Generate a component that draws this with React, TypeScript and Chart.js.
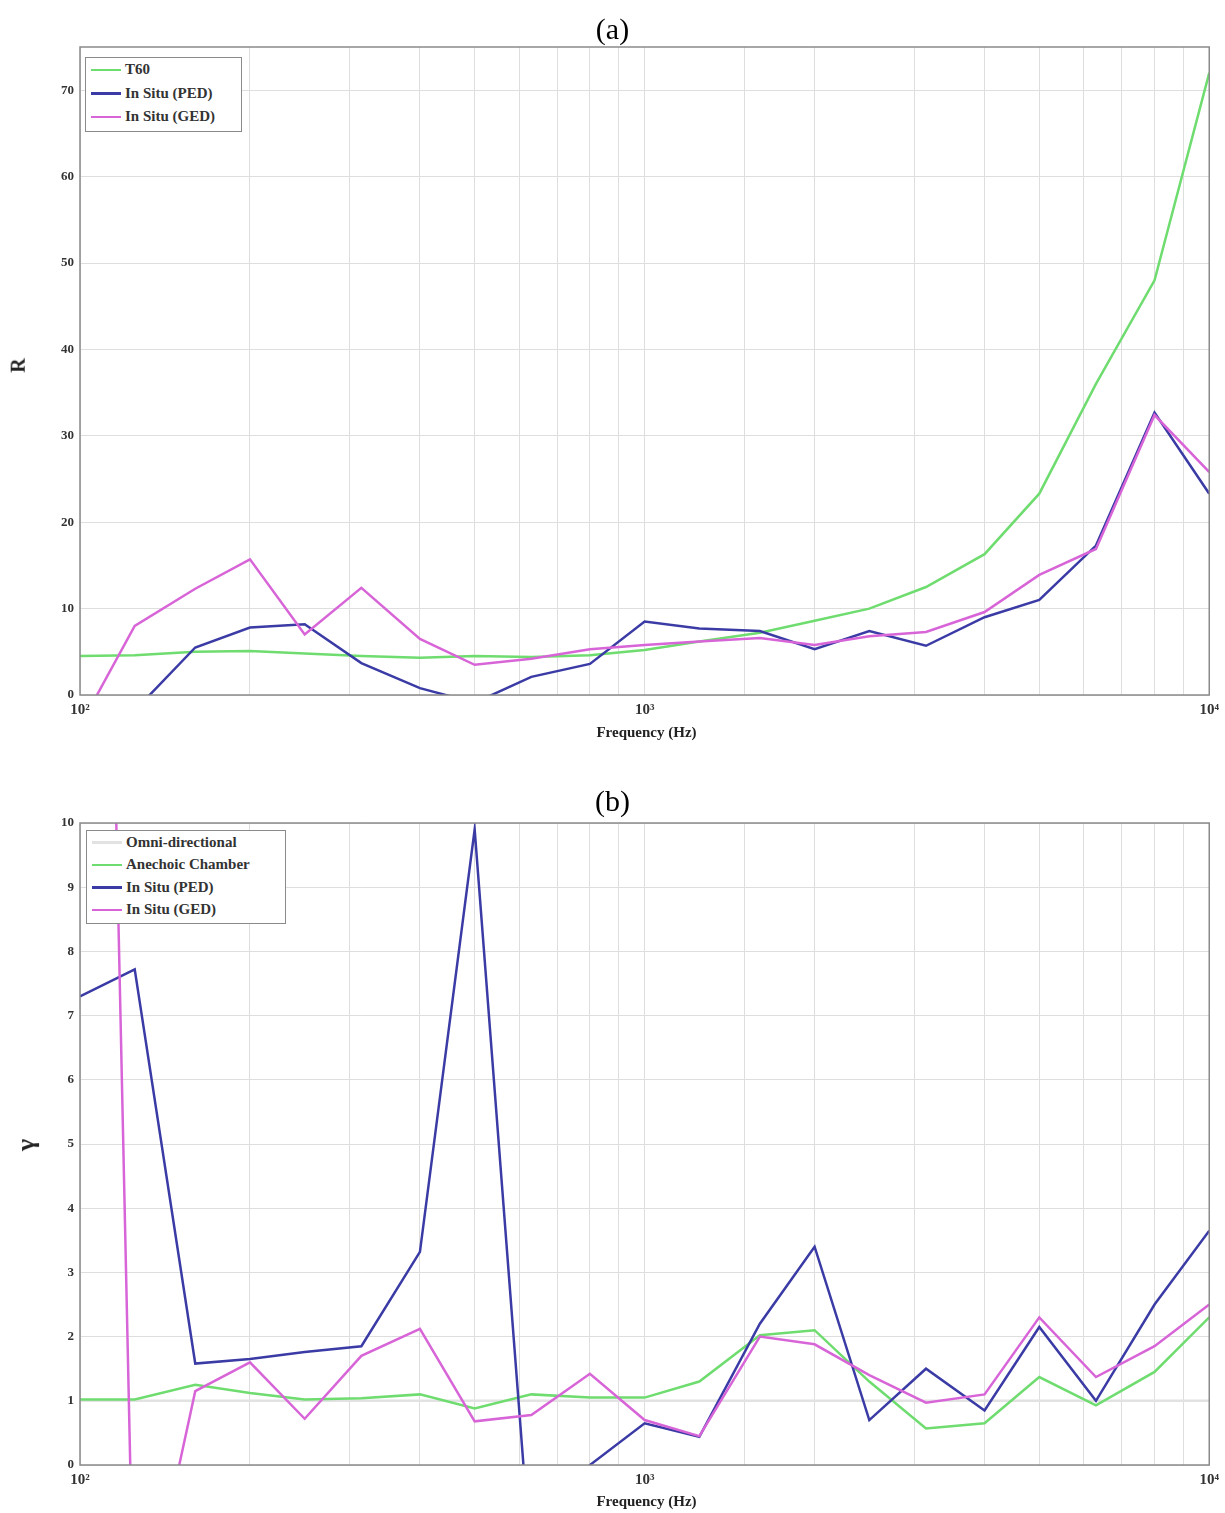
import React, { useEffect, useRef } from "react";
import { Chart, registerables } from "chart.js";

Chart.register(...registerables);

// ---- data ----
const FREQS = [100, 125, 160, 200, 250, 315, 400, 500, 630, 800, 1000, 1250, 1600, 2000, 2500, 3150, 4000, 5000, 6300, 8000, 10000];

// Panel (a): R
const A_T60 = [4.5, 4.6, 5.0, 5.1, 4.8, 4.5, 4.3, 4.5, 4.4, 4.6, 5.2, 6.2, 7.2, 8.6, 10.0, 12.5, 16.3, 23.3, 36, 48, 72];
const A_PED = [-4, -1.8, 5.5, 7.8, 8.2, 3.7, 0.8, -0.9, 2.1, 3.6, 8.5, 7.7, 7.4, 5.3, 7.4, 5.7, 9.0, 11.0, 17.3, 32.7, 23.3];
const A_GED = [-3.6, 8.0, 12.3, 15.7, 7.0, 12.4, 6.5, 3.5, 4.2, 5.3, 5.8, 6.2, 6.6, 5.8, 6.8, 7.3, 9.6, 13.9, 16.9, 32.4, 25.8];

// Panel (b): gamma
const B_OMNI = [1, 1, 1, 1, 1, 1, 1, 1, 1, 1, 1, 1, 1, 1, 1, 1, 1, 1, 1, 1, 1];
const B_ANECHOIC = [1.02, 1.02, 1.25, 1.12, 1.02, 1.04, 1.1, 0.88, 1.1, 1.05, 1.05, 1.3, 2.02, 2.1, 1.3, 0.57, 0.65, 1.37, 0.93, 1.45, 2.3];
const B_PED = [7.3, 7.72, 1.58, 1.65, 1.76, 1.85, 3.32, 9.9, -1.6, 0.0, 0.65, 0.44, 2.2, 3.4, 0.7, 1.5, 0.85, 2.15, 1.0, 2.5, 3.65];
const B_GED = [36, -3.2, 1.15, 1.6, 0.72, 1.7, 2.12, 0.68, 0.78, 1.42, 0.7, 0.45, 2.0, 1.88, 1.4, 0.97, 1.1, 2.3, 1.37, 1.85, 2.5];

const X_TICK_LABELS: Record<number, string> = { 100: "10²", 1000: "10³", 10000: "10⁴" };

const GREEN = "#6fdc6f";
const BLUE = "#3b3ba6";
const PINK = "#d865d8";
const OMNI = "#e2e2e2";

const SERIF = "'Liberation Serif', 'DejaVu Serif', serif";

const pts = (vals: number[]) => FREQS.map((f, i) => ({ x: f, y: vals[i] }));

const framePlugin = {
  id: "frame",
  afterDraw(chart: any) {
    const { ctx, chartArea } = chart;
    ctx.save();
    ctx.strokeStyle = "#8a8a8a";
    ctx.lineWidth = 1.5;
    ctx.strokeRect(chartArea.left, chartArea.top, chartArea.right - chartArea.left, chartArea.bottom - chartArea.top);
    ctx.restore();
  },
};

function buildConfig(datasets: any[], yMax: number, yStep: number, padTop: number, padBottom: number) {
  return {
    type: "line",
    data: { datasets },
    plugins: [framePlugin],
    options: {
      animation: false,
      responsive: false,
      layout: { padding: { left: 0, right: 12, top: padTop, bottom: padBottom } },
      plugins: { legend: { display: false }, tooltip: { enabled: false }, title: { display: false } },
      elements: { point: { radius: 0 }, line: { tension: 0, borderWidth: 2.5 } },
      scales: {
        x: {
          type: "logarithmic",
          min: 100,
          max: 10000,
          afterFit: (s: any) => { s.height = 30; },
          grid: { color: "#dedede", lineWidth: 1, drawTicks: false },
          border: { display: false },
          ticks: {
            autoSkip: false,
            maxRotation: 0,
            padding: 6,
            color: "#333",
            font: { family: SERIF, size: 15, weight: "bold" },
            callback: (v: any) => X_TICK_LABELS[Math.round(Number(v))] ?? "",
          },
        },
        y: {
          type: "linear",
          min: 0,
          max: yMax,
          afterFit: (s: any) => { s.width = 80; },
          grid: { color: "#dedede", lineWidth: 1, drawTicks: false },
          border: { display: false },
          ticks: {
            stepSize: yStep,
            includeBounds: false,
            padding: 6,
            color: "#333",
            font: { family: SERIF, size: 13, weight: "bold" },
          },
        },
      },
    },
  };
}

type LegendItem = { label: string; color: string };

function Legend({ items, left, top, width, rowH }: { items: LegendItem[]; left: number; top: number; width: number; rowH: number }) {
  return (
    <div
      style={{
        position: "absolute",
        left,
        top,
        width,
        background: "#fff",
        border: "1.5px solid #8a8a8a",
        padding: "0px 4px 2px 5px",
        boxSizing: "border-box",
        fontFamily: SERIF,
        fontWeight: "bold",
        fontSize: 15,
        color: "#333",
      }}
    >
      {items.map((it) => (
        <div key={it.label} style={{ display: "flex", alignItems: "center", height: rowH, whiteSpace: "nowrap" }}>
          <span style={{ display: "inline-block", width: 30, height: 2.5, background: it.color, marginRight: 4 }} />
          <span>{it.label}</span>
        </div>
      ))}
    </div>
  );
}

const textStyle: React.CSSProperties = { position: "absolute", fontFamily: SERIF, color: "#222", whiteSpace: "nowrap" };

export default function App() {
  const refA = useRef<HTMLCanvasElement | null>(null);
  const refB = useRef<HTMLCanvasElement | null>(null);

  useEffect(() => {
    const dsA = [
      { label: "In Situ (GED)", data: pts(A_GED), borderColor: PINK, order: 0 },
      { label: "In Situ (PED)", data: pts(A_PED), borderColor: BLUE, order: 1 },
      { label: "T60", data: pts(A_T60), borderColor: GREEN, order: 2 },
    ];
    const dsB = [
      { label: "In Situ (GED)", data: pts(B_GED), borderColor: PINK, order: 0 },
      { label: "In Situ (PED)", data: pts(B_PED), borderColor: BLUE, order: 1 },
      { label: "Anechoic Chamber", data: pts(B_ANECHOIC), borderColor: GREEN, order: 2 },
      { label: "Omni-directional", data: pts(B_OMNI), borderColor: OMNI, order: 3 },
    ];
    const cA = new Chart(refA.current as any, buildConfig(dsA, 75, 10, 47, 35) as any);
    const cB = new Chart(refB.current as any, buildConfig(dsB, 10, 1, 63, 18) as any);
    return () => {
      cA.destroy();
      cB.destroy();
    };
  }, []);

  return (
    <div style={{ position: "absolute", left: 0, top: 0, width: 1225, height: 1513, background: "#fff" }}>
      <canvas ref={refA} width={1225} height={760} style={{ position: "absolute", left: 0, top: 0 }} />
      <canvas ref={refB} width={1225} height={753} style={{ position: "absolute", left: 0, top: 760 }} />

      <div style={{ ...textStyle, left: 0, width: 1225, top: 12, textAlign: "center", fontSize: 30, color: "#000" }}>(a)</div>
      <div style={{ ...textStyle, left: 0, width: 1225, top: 784, textAlign: "center", fontSize: 30, color: "#000" }}>(b)</div>

      <div style={{ ...textStyle, left: 80, width: 1133, top: 724, textAlign: "center", fontSize: 15, fontWeight: "bold" }}>Frequency (Hz)</div>
      <div style={{ ...textStyle, left: 80, width: 1133, top: 1493, textAlign: "center", fontSize: 15, fontWeight: "bold" }}>Frequency (Hz)</div>

      <div style={{ ...textStyle, left: 11, top: 354, fontSize: 20, fontWeight: "bold", transform: "rotate(-90deg)" }}>R</div>
      <div style={{ ...textStyle, left: 20, top: 1130, fontSize: 26, fontWeight: "bold", transform: "rotate(-90deg)" }}>γ</div>

      <Legend
        left={85}
        top={57}
        width={157}
        rowH={23.5}
        items={[
          { label: "T60", color: GREEN },
          { label: "In Situ (PED)", color: BLUE },
          { label: "In Situ (GED)", color: PINK },
        ]}
      />
      <Legend
        left={86}
        top={830}
        width={200}
        rowH={22.5}
        items={[
          { label: "Omni-directional", color: OMNI },
          { label: "Anechoic Chamber", color: GREEN },
          { label: "In Situ (PED)", color: BLUE },
          { label: "In Situ (GED)", color: PINK },
        ]}
      />
    </div>
  );
}
